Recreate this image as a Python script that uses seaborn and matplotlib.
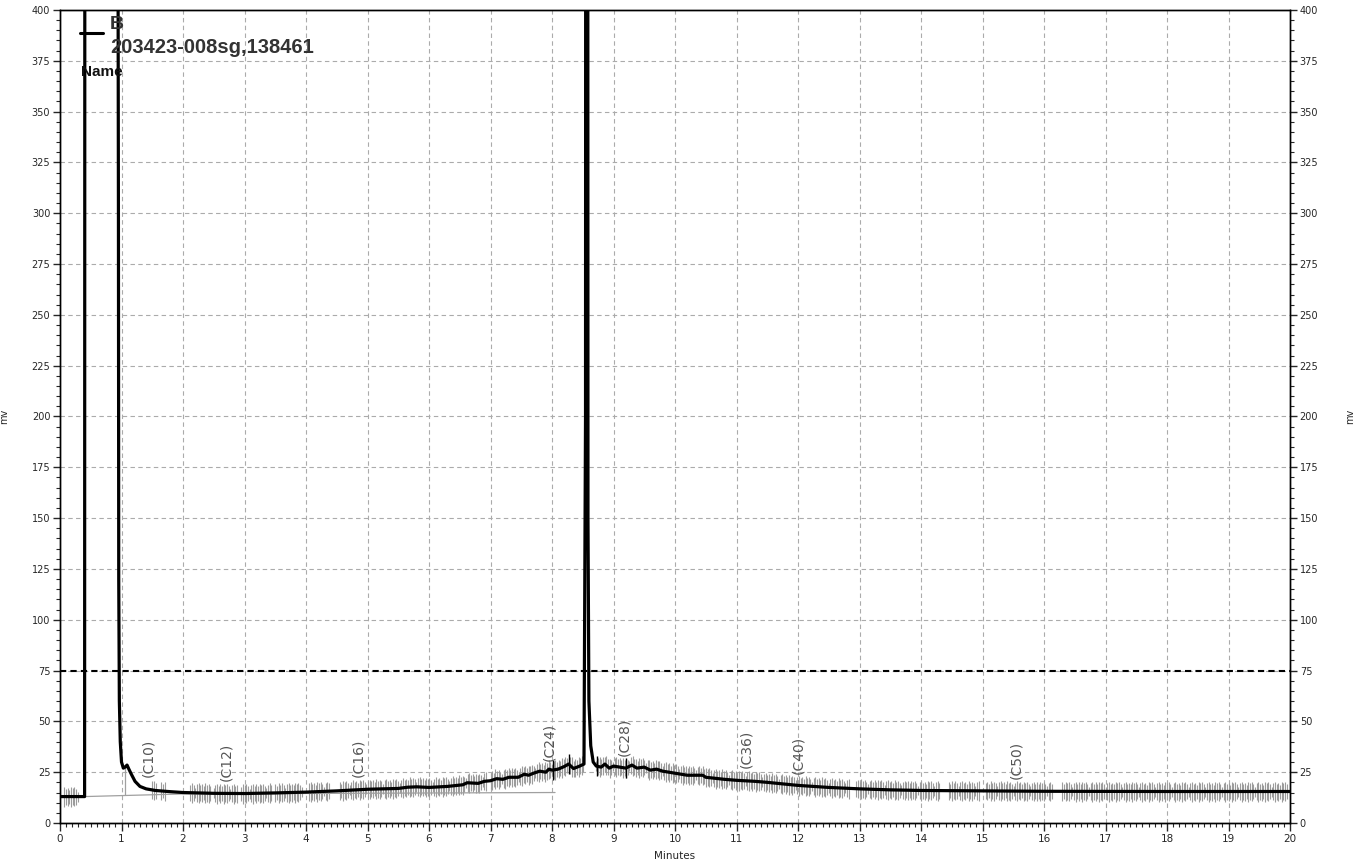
import numpy as np
import pandas as pd
import matplotlib
matplotlib.use("Agg")
import matplotlib.pyplot as plt
import seaborn as sns
from matplotlib.ticker import MultipleLocator
from matplotlib.lines import Line2D

# ---------------- data ----------------
time_min = [0.0, 0.40, 0.41, 0.93, 0.945, 0.95, 0.955, 0.965, 0.98, 1.0, 1.03, 1.06,
            1.09, 1.12, 1.16, 1.22, 1.30, 1.40, 1.55, 1.80, 2.0, 2.5, 3.0, 3.5, 4.0,
            4.5, 5.0, 5.5, 5.65, 5.8, 6.0, 6.3, 6.55, 6.62, 6.8, 6.9, 7.0, 7.1, 7.2,
            7.3, 7.45, 7.55, 7.62, 7.7, 7.8, 7.9, 7.95, 8.0, 8.1, 8.2, 8.27, 8.35, 8.45,
            8.52, 8.545, 8.555, 8.575, 8.585, 8.60, 8.63, 8.67, 8.72, 8.80, 8.86, 8.93,
            9.0, 9.1, 9.2, 9.3, 9.38, 9.5, 9.6, 9.7, 9.8, 10.0, 10.2, 10.45, 10.5,
            10.8, 11.0, 11.3, 11.5, 12.0, 12.5, 13.0, 13.5, 14.0, 15.0, 16.0, 18.0, 20.0]
signal_mv = [13.0, 13.0, 1200, 1200, 400, 300, 120, 60, 40, 30, 27, 27.5,
             28.5, 26.5, 24, 20.5, 18, 16.8, 16, 15.4, 15, 14.6, 14.5, 14.8, 15.2,
             15.8, 16.6, 17, 17.6, 17.8, 17.5, 18, 18.8, 19.8, 19.5, 20.5, 20.8, 21.8, 21.5,
             22.5, 22.5, 24, 23.5, 24.5, 25.5, 25, 26.5, 26, 26.5, 27.8, 29, 26.8, 28,
             29, 200, 1200, 1200, 150, 60, 38, 30, 28, 27.5, 29, 27, 28, 27.5, 27,
             28.5, 27, 27.5, 26, 26.5, 25.5, 24.5, 23.5, 23.5, 22.5, 21.5, 21, 20.5, 20,
             18.5, 17.5, 16.8, 16.3, 16, 15.8, 15.6, 15.5, 15.5]

baseline_time = [0.40, 2.0, 8.05]
baseline_mv = [13.0, 14.3, 15.0]

marker_names = ["(C10)", "(C12)", "(C16)", "(C24)", "(C28)", "(C36)", "(C40)", "(C50)"]
marker_time = [1.44, 2.71, 4.85, 7.96, 9.18, 11.16, 12.0, 15.55]
marker_label_mv = [22.8, 20.5, 22.6, 30.7, 32.8, 27.0, 24.3, 21.7]

event_start = [0.07, 1.50, 1.65, 2.12, 2.50, 2.95, 3.50, 4.05, 4.55, 7.00, 8.72,
               12.95, 14.45, 15.05, 16.30]
event_end = [0.30, 1.56, 1.73, 2.45, 2.90, 3.45, 3.95, 4.40, 6.95, 8.52, 12.85,
             14.30, 14.95, 16.15, 19.95]
event_half_height = [5.0, 4.0, 4.6, 3.6, 5.0, 4.2, 4.8, 3.9, 2.5, 4.4]
black_event_time = [8.02, 8.27, 8.73, 9.20]

x_ticks = list(range(0, 21))
y_ticks = list(range(0, 401, 25))
threshold_mv = 75
legend_id = "203423-008sg,138461"

# ---------------- figure ----------------
sns.set_style("white")
plt.rcParams["font.family"] = ["DejaVu Sans"]

W, H = 1360, 865
fig = plt.figure(figsize=(W / 100, H / 100), dpi=100)
ax = fig.add_axes([60 / W, 1 - 823 / H, 1230 / W, 813 / H])

ax.set_xlim(0, 20)
ax.set_ylim(0, 400)

# grid
for xv in x_ticks[1:-1]:
    ax.axvline(xv, color="#ababab", lw=0.8, ls=(0, (4, 3)), zorder=0)
for yv in y_ticks[1:-1]:
    ax.axhline(yv, color="#ababab", lw=0.8, ls=(0, (4, 3)), zorder=0)

# integration event ticks
pos_all, lo_all, hi_all = [], [], []
k = 0
for s, e in zip(event_start, event_end):
    for t in np.arange(s, e, 0.027):
        c = float(np.interp(t, time_min, signal_mv))
        h = event_half_height[k % len(event_half_height)]
        pos_all.append(t)
        lo_all.append(c - h)
        hi_all.append(c + h * 0.95)
        k += 1
ax.vlines(pos_all, lo_all, hi_all, colors="#9c9c9c", lw=0.8, zorder=1)

# baseline
ax.plot(baseline_time, baseline_mv, color="#a0a0a0", lw=0.9, zorder=2)
ax.vlines([1.05], [13.8], [27], colors="#a0a0a0", lw=0.9, zorder=2)

# threshold
ax.axhline(threshold_mv, color="black", lw=1.5, ls=(0, (3, 2)), zorder=3)

# main trace
df = pd.DataFrame({"Minutes": time_min, "mv": signal_mv})
sns.lineplot(data=df, x="Minutes", y="mv", sort=False, estimator=None,
             color="black", lw=2.3, ax=ax, zorder=5)

# black markers
for t in black_event_time:
    c = float(np.interp(t, time_min, signal_mv))
    ax.vlines([t], [c - 5], [c + 5], colors="black", lw=1.0, zorder=6)

# peak labels
for name, t, y in zip(marker_names, marker_time, marker_label_mv):
    ax.text(t, y, name, rotation=90, ha="center", va="bottom",
            fontsize=10, color="#555555", zorder=7)

# axes styling
ax.set_xticks(x_ticks)
ax.set_yticks(y_ticks)
ax.xaxis.set_minor_locator(MultipleLocator(0.1))
ax.yaxis.set_minor_locator(MultipleLocator(5))
ax.tick_params(axis="x", which="major", length=6, width=1, labelsize=7.5, pad=2, direction="out", bottom=True)
ax.tick_params(axis="x", which="minor", length=3, width=0.8, direction="out", bottom=True)
ax.tick_params(axis="y", which="major", length=5, width=1, labelsize=7, pad=2, direction="out", left=True)
ax.tick_params(axis="y", which="minor", length=3, width=0.8, direction="out", left=True)
for sp in ax.spines.values():
    sp.set_color("black")
    sp.set_linewidth(1.0)
ax.set_xlabel("Minutes", fontsize=7.5)
ax.set_ylabel("mv", fontsize=7)
ax.xaxis.set_label_coords(0.5, -0.034)
ax.yaxis.set_label_coords(-0.041, 0.5)

ax2 = ax.twinx()
ax2.set_ylim(0, 400)
ax2.set_yticks(y_ticks)
ax2.yaxis.set_minor_locator(MultipleLocator(5))
ax2.tick_params(axis="y", which="major", length=5, width=1, labelsize=7, pad=2, direction="out", right=True)
ax2.tick_params(axis="y", which="minor", length=3, width=0.8, direction="out", right=True)
ax2.set_ylabel("mv", fontsize=7, rotation=90)
ax2.yaxis.set_label_coords(1.0447, 0.5)
ax2.grid(False)
for sp in ax2.spines.values():
    sp.set_color("black")
    sp.set_linewidth(1.0)

# legend-like header
fig.add_artist(Line2D([80 / W, 103 / W], [1 - 33 / H, 1 - 33 / H], color="black", lw=2.2))
fig.text(110 / W, 1 - 29 / H, "B", fontsize=14, fontweight="bold",
         family="Liberation Sans", color="#333333", va="baseline")
fig.text(110 / W, 1 - 53 / H, legend_id, fontsize=14.5, fontweight="bold",
         family="Liberation Sans", color="#333333", va="baseline")
fig.text(81 / W, 1 - 76 / H, "Name", fontsize=11, fontweight="bold",
         family="Liberation Sans", color="#111111", va="baseline")

fig.savefig("out.png", dpi=100)
